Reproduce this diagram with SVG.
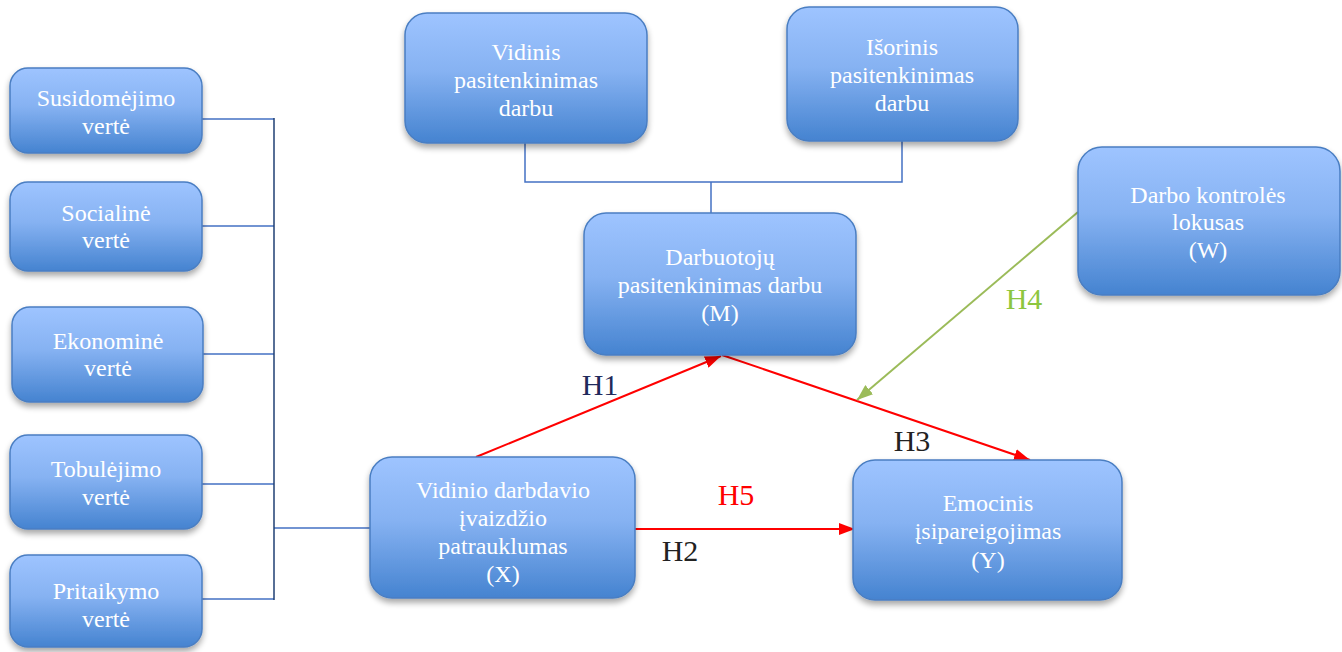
<svg xmlns="http://www.w3.org/2000/svg" width="1342" height="652" viewBox="0 0 1342 652">
<defs>
<linearGradient id="g" x1="0" y1="0" x2="0" y2="1">
<stop offset="0" stop-color="#9EC4FF"/>
<stop offset="0.45" stop-color="#86B2F2"/>
<stop offset="1" stop-color="#4583D0"/>
</linearGradient>
<filter id="sh" x="-10%" y="-10%" width="120%" height="130%">
<feGaussianBlur in="SourceAlpha" stdDeviation="3"/>
<feOffset dx="0" dy="4" result="b"/>
<feComponentTransfer><feFuncA type="linear" slope="0.35"/></feComponentTransfer>
<feMerge><feMergeNode/><feMergeNode in="SourceGraphic"/></feMerge>
</filter>
<marker id="ar" viewBox="0 0 16 12" refX="16" refY="6" markerWidth="16" markerHeight="12" markerUnits="userSpaceOnUse" orient="auto">
<path d="M0,0 L16,6 L0,12 Z" fill="#FF0000"/>
</marker>
<marker id="ag" viewBox="0 0 16 12" refX="16" refY="6" markerWidth="16" markerHeight="12" markerUnits="userSpaceOnUse" orient="auto">
<path d="M0,0 L16,6 L0,12 Z" fill="#9BBB59"/>
</marker>
</defs>
<style>
.box{fill:url(#g);stroke:#4A7EC2;stroke-width:1.5;filter:url(#sh)}
text{font-family:"Liberation Serif","Times New Roman",serif}
.t{font-size:24px;fill:#FFFFFF;text-anchor:middle}
.lbl{font-size:30px;text-anchor:middle}
.c{fill:none;stroke:#4472C4;stroke-width:1.5}
.cd{fill:none;stroke:#1F3F73;stroke-width:1.5}
.r{stroke:#FF0000;stroke-width:2;fill:none}
</style>
<rect width="1342" height="652" fill="#FFFFFF"/>
<g id="connectors">
<path class="c" d="M202,119 H274 M202,226 H274 M203,354 H274 M202,484 H274 M202,599 H274 M274,528 H370"/>
<path class="cd" d="M274,118 V600"/>
<path class="c" d="M525,143 V182 H902 V141 M711,182 V213"/>
<line class="r" x1="476" y1="457" x2="721" y2="356" marker-end="url(#ar)"/>
<line class="r" x1="722" y1="355" x2="1030" y2="460" marker-end="url(#ar)"/>
<line class="r" x1="635" y1="529" x2="855" y2="529" marker-end="url(#ar)"/>
<line x1="1078" y1="212" x2="857" y2="400" stroke="#9BBB59" stroke-width="2" marker-end="url(#ag)"/>
<text class="lbl" x="600" y="395" fill="#1F2A5C">H1</text>
<text class="lbl" x="680" y="561" fill="#222222">H2</text>
<text class="lbl" x="912" y="451" fill="#222222">H3</text>
<text class="lbl" x="1024" y="309" fill="#8DC63F">H4</text>
<text class="lbl" x="736" y="505" fill="#FF0000">H5</text>
</g>
<g id="n-susidomejimo">
<rect class="box" x="10" y="68" width="192" height="85" rx="18"/>
<text class="t" x="106" y="106">Susidomėjimo</text>
<text class="t" x="106" y="134">vertė</text>
</g>
<g id="n-socialine">
<rect class="box" x="10" y="182" width="192" height="89" rx="18"/>
<text class="t" x="106" y="221">Socialinė</text>
<text class="t" x="106" y="248">vertė</text>
</g>
<g id="n-ekonomine">
<rect class="box" x="12" y="307" width="191" height="95" rx="18"/>
<text class="t" x="108" y="349">Ekonominė</text>
<text class="t" x="108" y="376">vertė</text>
</g>
<g id="n-tobulejimo">
<rect class="box" x="10" y="435" width="192" height="94" rx="18"/>
<text class="t" x="106" y="477">Tobulėjimo</text>
<text class="t" x="106" y="505">vertė</text>
</g>
<g id="n-pritaikymo">
<rect class="box" x="10" y="555" width="192" height="92" rx="18"/>
<text class="t" x="106" y="599">Pritaikymo</text>
<text class="t" x="106" y="627">vertė</text>
</g>
<g id="n-vidinis">
<rect class="box" x="405" y="13" width="242" height="130" rx="22"/>
<text class="t" x="526" y="60">Vidinis</text>
<text class="t" x="526" y="88">pasitenkinimas</text>
<text class="t" x="526" y="116">darbu</text>
</g>
<g id="n-isorinis">
<rect class="box" x="787" y="7" width="231" height="134" rx="22"/>
<text class="t" x="902" y="55">Išorinis</text>
<text class="t" x="902" y="83">pasitenkinimas</text>
<text class="t" x="902" y="111">darbu</text>
</g>
<g id="n-m">
<rect class="box" x="584" y="213" width="272" height="142" rx="22"/>
<text class="t" x="720" y="265">Darbuotojų</text>
<text class="t" x="720" y="293">pasitenkinimas darbu</text>
<text class="t" x="720" y="321">(M)</text>
</g>
<g id="n-w">
<rect class="box" x="1078" y="147" width="262" height="148" rx="24"/>
<text class="t" x="1208" y="203">Darbo kontrolės</text>
<text class="t" x="1208" y="230">lokusas</text>
<text class="t" x="1208" y="258">(W)</text>
</g>
<g id="n-x">
<rect class="box" x="370" y="457" width="265" height="141" rx="22"/>
<text class="t" x="503" y="498">Vidinio darbdavio</text>
<text class="t" x="503" y="526">įvaizdžio</text>
<text class="t" x="503" y="554">patrauklumas</text>
<text class="t" x="503" y="582">(X)</text>
</g>
<g id="n-y">
<rect class="box" x="853" y="460" width="269" height="140" rx="22"/>
<text class="t" x="988" y="511">Emocinis</text>
<text class="t" x="988" y="539">įsipareigojimas</text>
<text class="t" x="988" y="568">(Y)</text>
</g>
</svg>
